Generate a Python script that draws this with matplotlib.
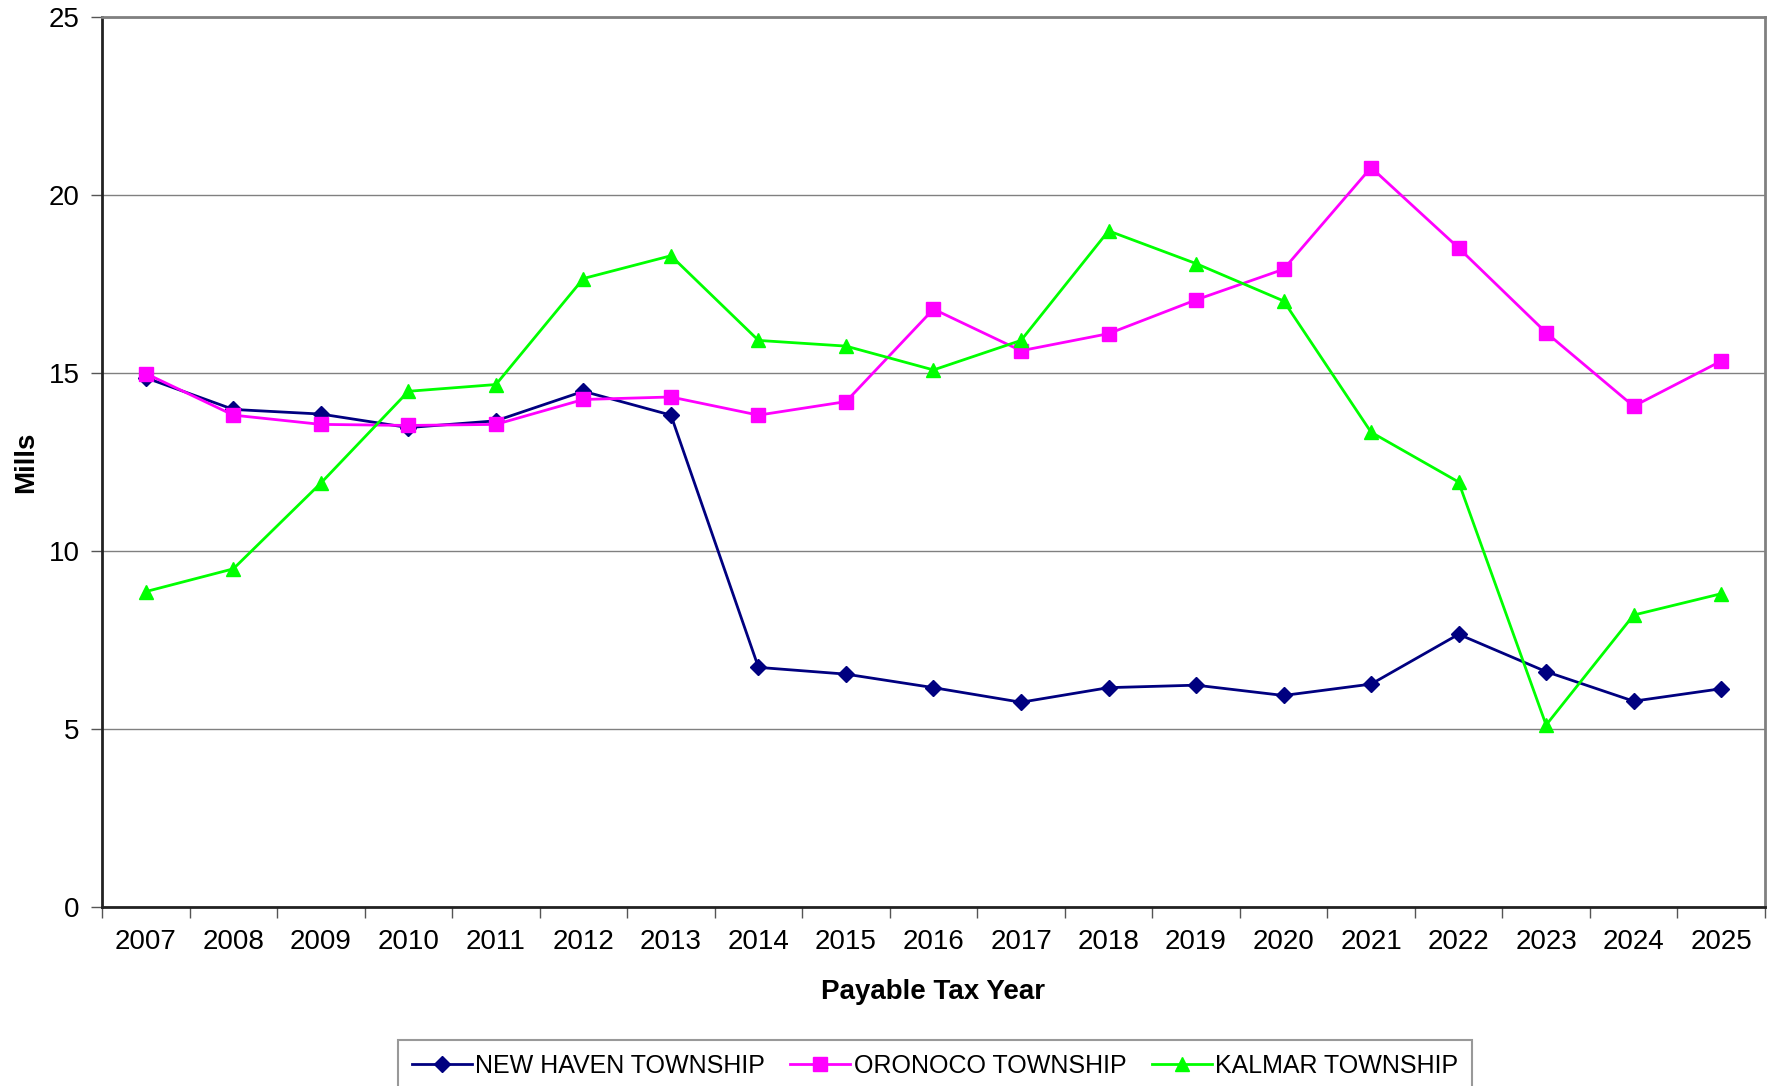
import numpy as np
import matplotlib
matplotlib.use("Agg")
from matplotlib import pyplot as plt
from matplotlib import font_manager
from matplotlib.ticker import FixedLocator

plt.rcParams["font.family"] = ["Liberation Sans", "DejaVu Sans"]

years = [str(y) for y in range(2007, 2026)]
new_haven = [14.87, 13.98, 13.85, 13.47, 13.66, 14.49, 13.82, 6.73, 6.54, 6.16,
             5.75, 6.16, 6.23, 5.94, 6.26, 7.66, 6.61, 5.78, 6.13]
oronoco = [14.99, 13.82, 13.56, 13.53, 13.56, 14.26, 14.33, 13.82, 14.20, 16.80,
           15.63, 16.11, 17.06, 17.92, 20.78, 18.52, 16.14, 14.07, 15.34]
kalmar = [8.86, 9.50, 11.91, 14.49, 14.68, 17.66, 18.30, 15.92, 15.76, 15.09,
          15.92, 19.00, 18.08, 17.03, 13.34, 11.94, 5.11, 8.20, 8.80]

fig = plt.figure(figsize=(17.72, 10.86), dpi=100)
ax = fig.add_axes([0.0576, 0.165, 0.9384, 0.819])

x = np.arange(len(years))
ax.plot(x, new_haven, color="#000080", marker="D", markersize=8.5, lw=2, label="NEW HAVEN TOWNSHIP")
ax.plot(x, oronoco, color="#FF00FF", marker="s", markersize=10, lw=2, label="ORONOCO TOWNSHIP")
ax.plot(x, kalmar, color="#00FF00", marker="^", markersize=10.5, lw=2, label="KALMAR TOWNSHIP")

ax.set_xlim(-0.5, len(years) - 0.5)
ax.set_ylim(0, 25)
ax.set_yticks([0, 5, 10, 15, 20, 25])
ax.yaxis.grid(True, color="#808080", lw=1)
ax.set_axisbelow(True)

ax.set_xticks(x)
ax.set_xticklabels(years)
ax.xaxis.set_minor_locator(FixedLocator(np.arange(-0.5, len(years), 1.0)))
ax.tick_params(axis="x", which="major", length=0, pad=16, labelsize=20)
ax.tick_params(axis="x", which="minor", length=8, width=1, color="#555555")
ax.tick_params(axis="y", length=8, width=1, color="#555555", labelsize=20, pad=8)

for side in ["left", "bottom"]:
    ax.spines[side].set_linewidth(2)
    ax.spines[side].set_color("#222222")
for side in ["top", "right"]:
    ax.spines[side].set_linewidth(2)
    ax.spines[side].set_color("#808080")

ax.set_xlabel("Payable Tax Year", fontsize=20, fontweight="bold", labelpad=17)
ax.set_ylabel("Mills", fontsize=20, fontweight="bold", labelpad=7)

names = {f.name for f in font_manager.fontManager.ttflist}
leg_family = "Liberation Sans Narrow" if "Liberation Sans Narrow" in names else "Liberation Sans"
leg_size = 21.5 if leg_family == "Liberation Sans Narrow" else 18

leg = fig.legend(loc="upper center", bbox_to_anchor=(0.5277, 0.0424), ncol=3,
                 prop={"family": leg_family, "size": leg_size},
                 frameon=True, fancybox=False, edgecolor="#808080", handlelength=2.4,
                 columnspacing=1.0, handletextpad=0.15, borderpad=0.55, borderaxespad=0)
leg.get_frame().set_linewidth(1.5)

fig.savefig("out.png", dpi=100)
